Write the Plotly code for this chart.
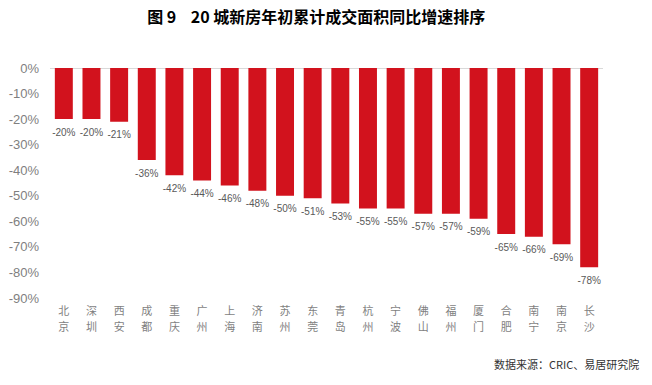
import plotly.graph_objects as go

cities = ["北京", "深圳", "西安", "成都", "重庆", "广州", "上海", "济南", "苏州", "东莞",
          "青岛", "杭州", "宁波", "佛山", "福州", "厦门", "合肥", "南宁", "南京", "长沙"]
growth = [-20, -20, -21, -36, -42, -44, -46, -48, -50, -51,
          -53, -55, -55, -57, -57, -59, -65, -66, -69, -78]
labels = [f"{v}%" for v in growth]
tick_vals = [0, -10, -20, -30, -40, -50, -60, -70, -80, -90]
tick_text = [f"{v}%" for v in tick_vals]
first_chars = [c[0] for c in cities]
second_chars = [c[1] for c in cities]
label_offset = 5.5  # label placed this many % below the bar end

fig = go.Figure()
fig.add_trace(go.Bar(
    x=cities, y=growth, marker_color="#d2121d", marker_line_width=0,
))
fig.add_trace(go.Scatter(
    x=cities, y=[v - label_offset for v in growth], mode="text", text=labels,
    textposition="middle center", cliponaxis=False, hoverinfo="skip",
    textfont=dict(size=10, color="#595959", family="Liberation Sans, Arial"),
))
# invisible trace that drives the second row of category labels
fig.add_trace(go.Scatter(
    x=cities, y=growth, mode="markers", marker=dict(opacity=0), xaxis="x2",
    hoverinfo="skip",
))
tick_font = dict(size=11, color="#7f7f7f", family="Noto Sans CJK SC")
fig.update_layout(
    width=652, height=385,
    margin=dict(l=50, r=49, t=68, b=87, autoexpand=False),
    paper_bgcolor="white", plot_bgcolor="white",
    bargap=0.35, showlegend=False,
    font=dict(family="Noto Sans CJK SC, sans-serif"),
    title=dict(text="<b>图 9    20 城新房年初累计成交面积同比增速排序</b>",
               x=0.485, xanchor="center", y=0.956, yanchor="middle",
               font=dict(size=16, color="#000000", family="Noto Sans CJK SC")),
    xaxis=dict(range=[-0.5, len(cities) - 0.5], tickvals=cities, ticktext=first_chars,
               showgrid=False, showline=False, ticks="", automargin=False,
               tickfont=tick_font, ticklabelstandoff=5),
    xaxis2=dict(range=[-0.5, len(cities) - 0.5], tickvals=cities, ticktext=second_chars,
                overlaying="x", side="bottom", anchor="y", showgrid=False, showline=False,
                ticks="", automargin=False, tickfont=tick_font, ticklabelstandoff=21,
                zeroline=False),
    yaxis=dict(range=[-90, 0], tickvals=tick_vals, ticktext=tick_text, showgrid=False,
               zeroline=True, zerolinecolor="#d9d9d9", zerolinewidth=1.3,
               tickfont=dict(size=13, color="#7f7f7f", family="Liberation Sans, Arial"),
               ticks="", ticklabelstandoff=10, automargin=False),
)
fig.add_annotation(
    text="数据来源：CRIC、易居研究院", xref="paper", yref="paper",
    x=1.069, y=-0.285, xanchor="right", yanchor="middle", showarrow=False,
    font=dict(size=11, color="#333333", family="Noto Sans CJK SC"),
)
fig.write_html("out.html", config={"displayModeBar": False},
               post_script="document.body.style.margin='0';")
